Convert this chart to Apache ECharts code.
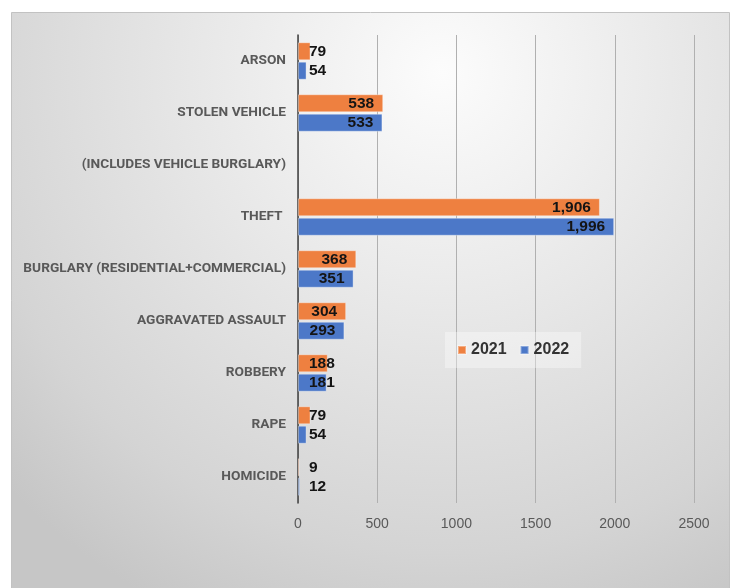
<!DOCTYPE html>
<html><head><meta charset="utf-8">
<script src="https://cdn.jsdelivr.net/npm/echarts@6/dist/echarts.min.js"></script>
<style>html,body{margin:0;padding:0;background:#fff}#c{width:732px;height:588px}</style>
</head><body><div id="c"></div>
<script>
const categories = ['ARSON','STOLEN VEHICLE','(INCLUDES VEHICLE BURGLARY)','THEFT ','BURGLARY (RESIDENTIAL+COMMERCIAL)','AGGRAVATED ASSAULT','ROBBERY','RAPE','HOMICIDE'];
const seriesNames = ['2021','2022'];
const values2021 = [79,538,null,1906,368,304,188,79,9];
const values2022 = [54,533,null,1996,351,293,181,54,12];
const xTicks = [0,500,1000,1500,2000,2500];
const colors = ['#EE8040','#4C78C8'];

function mkData(vals){
  return vals.map(v => v == null ? null : {
    value: v,
    label: v < 250 ? {position:'insideLeft', distance:11} : {position:'insideRight', distance:9}
  });
}

const chart = echarts.init(document.getElementById('c'));
chart.setOption({
  animation:false,
  graphic:{elements:[{
    type:'rect', z:-100, silent:true,
    shape:{x:11.5,y:12.5,width:718,height:600},
    style:{
      fill:new echarts.graphic.RadialGradient(0.6,0.1,1.0,[
        {offset:0,color:'#fcfcfc'},
        {offset:0.8,color:'#d4d4d4'},
        {offset:1,color:'#c6c6c6'}
      ]),
      stroke:'#c2c2c2', lineWidth:1
    }
  }]},
  grid:{left:298,right:38,top:35,bottom:85,containLabel:false,outerBoundsMode:'none'},
  legend:{
    data:seriesNames, left:445, top:332,
    icon:'rect', itemWidth:8, itemHeight:8, itemGap:13,
    padding:[10,12], backgroundColor:'rgba(255,255,255,0.35)',
    textStyle:{fontFamily:'Liberation Sans',fontWeight:'bold',fontSize:16,color:'#333333'}
  },
  xAxis:{
    type:'value', min:xTicks[0], max:xTicks[xTicks.length-1], interval:xTicks[1]-xTicks[0],
    axisLine:{show:false}, axisTick:{show:false},
    axisLabel:{color:'#595959',fontFamily:'Liberation Sans',fontSize:14,margin:14,formatter:v=>String(v)},
    splitLine:{lineStyle:{color:'#b0b0b0',width:1}}
  },
  yAxis:{
    type:'category', data:categories, inverse:true,
    axisLine:{show:true,lineStyle:{color:'#404040',width:1.5}},
    axisTick:{show:false},
    axisLabel:{color:'#595959',fontFamily:'Roboto',fontWeight:'bold',fontSize:13.7,margin:12}
  },
  series:[
    {name:seriesNames[0],type:'bar',data:mkData(values2021),barWidth:18,barGap:'8%',
     itemStyle:{color:colors[0],borderColor:'rgba(255,255,255,0.35)',borderWidth:1},
     label:{show:true,color:'#141414',fontFamily:'Liberation Sans',fontWeight:'bold',fontSize:15.5,
       formatter:p=>p.value.toLocaleString('en-US')}},
    {name:seriesNames[1],type:'bar',data:mkData(values2022),barWidth:18,barGap:'8%',
     itemStyle:{color:colors[1],borderColor:'rgba(255,255,255,0.35)',borderWidth:1},
     label:{show:true,color:'#141414',fontFamily:'Liberation Sans',fontWeight:'bold',fontSize:15.5,
       formatter:p=>p.value.toLocaleString('en-US')}}
  ]
});
</script></body></html>
